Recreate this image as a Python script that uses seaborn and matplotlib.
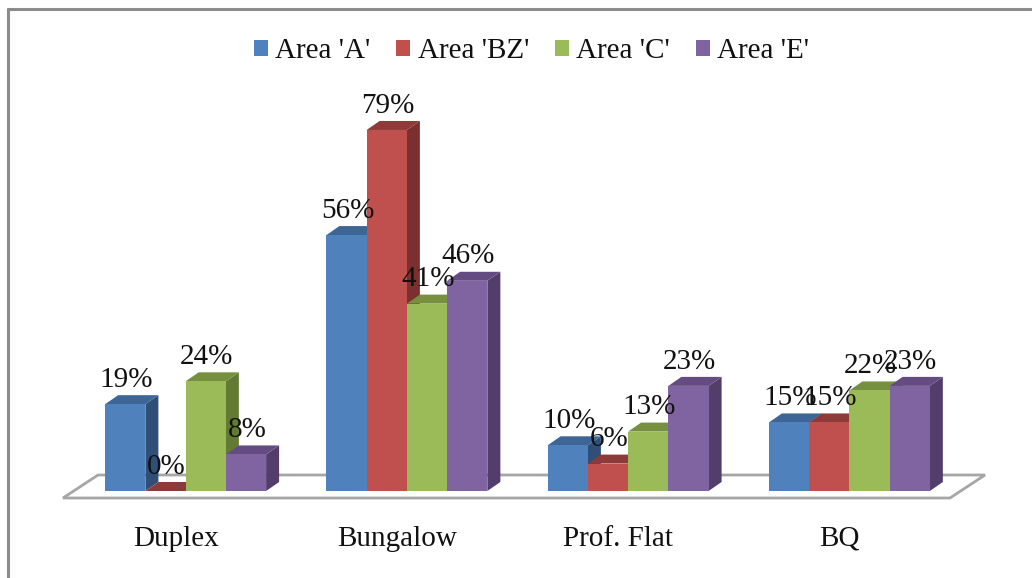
import matplotlib
matplotlib.use("Agg")
import matplotlib.pyplot as plt
from matplotlib.lines import Line2D
from matplotlib.patches import Polygon
from matplotlib.transforms import ScaledTranslation
import pandas as pd
import seaborn as sns

categories = ["Duplex", "Bungalow", "Prof. Flat", "BQ"]
areas = ["Area 'A'", "Area 'BZ'", "Area 'C'", "Area 'E'"]
area_a = [19, 56, 10, 15]
area_bz = [0, 79, 6, 15]
area_c = [24, 41, 13, 22]
area_e = [8, 46, 23, 23]

front_colors = ["#4F81BD", "#C0504D", "#9BBB59", "#8064A2"]
top_colors = ["#3D6596", "#8E3A38", "#76903F", "#644C82"]
side_colors = ["#2F4F78", "#7A302E", "#637A35", "#533E6B"]

W, H = 1032, 578
FONT = "Liberation Serif"
FS = 21

sns.set_theme(style="white")
plt.rcParams["font.family"] = [FONT, "DejaVu Sans"]

table = pd.DataFrame({
    "category": categories * 4,
    "area": [a for a in areas for _ in categories],
    "share": area_a + area_bz + area_c + area_e,
})

fig = plt.figure(figsize=(W / 100, H / 100), dpi=100, facecolor="white")
ax = fig.add_axes([75 / W, 1 - 491 / H, 885 / W, 457 / H])
ax.patch.set_alpha(0)


def px(x, y):
    return x / W, 1 - y / H


# outer chart frame
for a, b in [((8, 9), (8, 578)), ((8, 9), (1032, 9))]:
    fig.add_artist(Line2D(*zip(px(*a), px(*b)), color="#8C8C8C", lw=2.2))

# chart floor, kept beneath the axes so the bars stand on it
floor = Polygon([px(63, 498), px(98, 475), px(985, 475), px(950, 498)], closed=True,
                transform=fig.transFigure, facecolor="white", edgecolor="#A6A6A6",
                lw=2, zorder=-1)
fig.add_artist(floor)

sns.barplot(data=table, x="category", y="share", hue="area", hue_order=areas,
            order=categories, palette=front_colors, width=0.7275, gap=0, dodge=True,
            saturation=1, errorbar=None, linewidth=0, ax=ax, zorder=3)
ax.set_xlim(-0.5, 3.5)
ax.set_ylim(0, 100)

# Extrude each bar into a box; bars further right are painted over earlier ones
depth_x = 13 / (885 / 4)
depth_y = 9 / (457 / 100)
boxes = []
for hue_idx, container in enumerate(ax.containers):
    for bar, value in zip(container, container.datavalues):
        boxes.append((bar.get_x(), bar, hue_idx, value))
boxes.sort(key=lambda b: b[0])
for order, (x0, bar, hue_idx, value) in enumerate(boxes):
    x1 = x0 + bar.get_width()
    z = 3 + order * 0.01
    bar.set_zorder(z + 0.002)
    ax.add_patch(Polygon([(x1, 0), (x1 + depth_x, depth_y), (x1 + depth_x, value + depth_y), (x1, value)],
                         facecolor=side_colors[hue_idx], edgecolor="none", zorder=z, clip_on=False))
    ax.add_patch(Polygon([(x0, value), (x0 + depth_x, value + depth_y), (x1 + depth_x, value + depth_y), (x1, value)],
                         facecolor=top_colors[hue_idx], edgecolor="none", zorder=z + 0.001, clip_on=False))
    ax.annotate(f"{value:.0f}%", (x0 + bar.get_width() / 2, value), xytext=(0.7, 17.5),
                textcoords="offset points", ha="center", va="center",
                fontsize=FS, color="#111111", zorder=10, annotation_clip=False)

sns.despine(ax=ax, left=True, bottom=True, top=True, right=True)
ax.set_xlabel("")
ax.set_ylabel("")
ax.set_yticks([])
ax.tick_params(axis="x", length=0, pad=25)
ax.set_xticks(range(len(categories)), categories, fontsize=FS, color="#111111")
shift = ScaledTranslation(-10 / 100, 0, fig.dpi_scale_trans)
for label in ax.get_xticklabels():
    label.set_transform(label.get_transform() + shift)

handles, labels = ax.get_legend_handles_labels()
ax.legend(handles, labels, loc="center", bbox_to_anchor=px(531.5, 51), bbox_transform=fig.transFigure,
          ncol=4, frameon=False, fontsize=FS, handlelength=0.48, handleheight=0.48,
          handletextpad=0.25, columnspacing=0.89, borderpad=0, labelcolor="#111111")

fig.savefig("out.png", dpi=100)
